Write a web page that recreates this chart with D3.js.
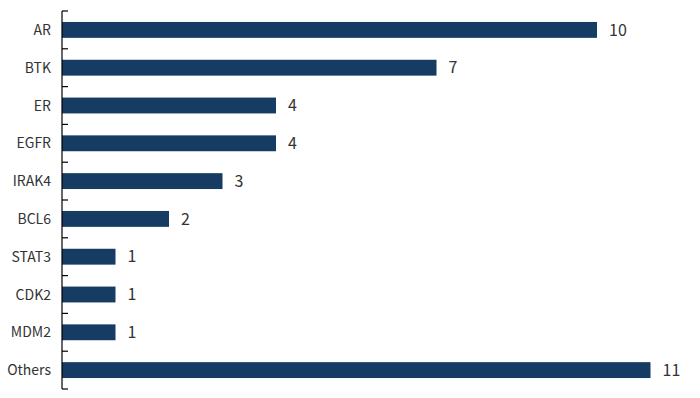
<!DOCTYPE html>
<html>
<head>
<meta charset="utf-8">
<script src="https://cdn.jsdelivr.net/npm/d3@7/dist/d3.min.js"></script>
<style>
  body { margin: 0; background: #fff; }
  text { font-family: "Noto Sans CJK SC", "Noto Sans", sans-serif; }
</style>
</head>
<body>
<script>
const w = 700;
const h = 398;

const categories = ["AR", "BTK", "ER", "EGFR", "IRAK4", "BCL6", "STAT3", "CDK2", "MDM2", "Others"];
const counts = [10, 7, 4, 4, 3, 2, 1, 1, 1, 11];

const axisLeft = 62;
const axisTop = 11;
const axisBottom = 389;
const unit = 53.5;

const svg = d3.select("body").append("svg").attr("width", w).attr("height", h);

const yScale = d3.scaleBand()
  .domain(categories)
  .range([axisTop, axisBottom])
  .paddingInner(0.58)
  .paddingOuter(0.29);

const xScale = d3.scaleLinear()
  .domain([0, 11])
  .range([axisLeft, axisLeft + 11 * unit]);

// bars
svg.append("g")
  .selectAll("rect")
  .data(categories)
  .enter()
  .append("rect")
  .attr("x", xScale(0))
  .attr("y", d => yScale(d))
  .attr("width", (d, i) => xScale(counts[i]) - xScale(0))
  .attr("height", yScale.bandwidth())
  .attr("fill", "#173c63");

// value labels
svg.append("g")
  .selectAll("text")
  .data(categories)
  .enter()
  .append("text")
  .attr("x", (d, i) => xScale(counts[i]) + 12)
  .attr("y", d => yScale(d) + yScale.bandwidth() / 2)
  .attr("dy", "0.36em")
  .attr("font-size", 16)
  .attr("fill", "#333")
  .text((d, i) => counts[i]);

// y axis with ticks at band boundaries pointing inward
const axisG = svg.append("g");
axisG.append("line")
  .attr("x1", axisLeft).attr("x2", axisLeft)
  .attr("y1", axisTop).attr("y2", axisBottom)
  .attr("stroke", "#000").attr("stroke-width", 1.2);

const boundaries = d3.range(categories.length + 1).map(i => axisTop + i * (axisBottom - axisTop) / categories.length);
axisG.selectAll(".tick-mark")
  .data(boundaries)
  .enter()
  .append("line")
  .attr("class", "tick-mark")
  .attr("x1", axisLeft).attr("x2", axisLeft + 6)
  .attr("y1", d => d).attr("y2", d => d)
  .attr("stroke", "#000").attr("stroke-width", 1.2);

axisG.selectAll(".cat-label")
  .data(categories)
  .enter()
  .append("text")
  .attr("class", "cat-label")
  .attr("x", axisLeft - 11)
  .attr("y", d => yScale(d) + yScale.bandwidth() / 2)
  .attr("dy", "0.36em")
  .attr("text-anchor", "end")
  .attr("font-size", 14)
  .attr("fill", "#333")
  .text(d => d);
</script>
</body>
</html>
